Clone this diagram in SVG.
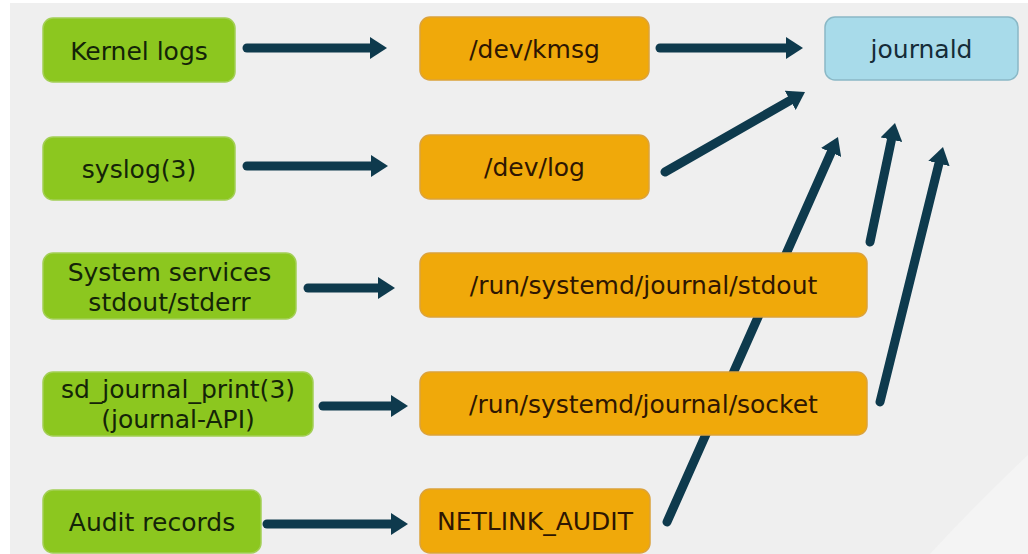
<svg xmlns="http://www.w3.org/2000/svg" width="1028" height="554" viewBox="0 0 1028 554">
<defs>
<marker id="ah" viewBox="0 0 17 22" markerWidth="17" markerHeight="22" refX="2" refY="11" orient="auto" markerUnits="userSpaceOnUse">
<path d="M0,0 L17,11 L0,22 z" fill="#0e3a4d"/>
</marker>
<style>
.c{stroke:#0e3a4d;stroke-width:9;fill:none;stroke-linecap:round;marker-end:url(#ah)}
.g{fill:#8cc71f;stroke:#a3cf55;stroke-width:1.5}
.o{fill:#f0a90a;stroke:#dca23a;stroke-width:1.5}
.b{fill:#a8dbea;stroke:#8ab8c6;stroke-width:1.5}
text{font-family:"DejaVu Sans",Verdana,sans-serif;font-size:25px;text-anchor:middle}
.tg{fill:#142408}
.to{fill:#2e1602}
.tb{fill:#152c38}
</style>
</defs>
<rect width="1028" height="554" fill="#ffffff"/>
<rect x="10" y="3" width="1018" height="551" fill="#efefef"/>
<path d="M1028,455 Q980,500 930,554 L1028,554 z" fill="#f4f4f4"/>
<g id="connectors">
<line class="c" x1="247" y1="48" x2="372" y2="48"/>
<line class="c" x1="247" y1="166" x2="373" y2="166"/>
<line class="c" x1="308" y1="288" x2="380" y2="288"/>
<line class="c" x1="323" y1="406" x2="393" y2="406"/>
<line class="c" x1="267" y1="524" x2="393" y2="524"/>
<line class="c" x1="660" y1="48" x2="788" y2="48"/>
<line class="c" x1="665" y1="172" x2="792" y2="99.4"/>
<line class="c" x1="667" y1="522" x2="831.9" y2="150.7"/>
<line class="c" x1="870" y1="242" x2="891.9" y2="137.7"/>
<line class="c" x1="880" y1="402" x2="939.4" y2="161.6"/>
</g>
<g id="kernel-logs"><rect class="g" x="43" y="18" width="192" height="64" rx="10"/><text class="tg" x="139" y="60">Kernel logs</text></g>
<g id="syslog"><rect class="g" x="43" y="137" width="192" height="63" rx="10"/><text class="tg" x="139" y="178">syslog(3)</text></g>
<g id="system-services"><rect class="g" x="43" y="253" width="253" height="66" rx="10"/><text class="tg" x="169.5" y="281">System services</text><text class="tg" x="169.5" y="311">stdout/stderr</text></g>
<g id="sd-journal-print"><rect class="g" x="43" y="372" width="270" height="64" rx="10"/><text class="tg" x="178" y="398">sd_journal_print(3)</text><text class="tg" x="178" y="428">(journal-API)</text></g>
<g id="audit-records"><rect class="g" x="43" y="490" width="218" height="63" rx="10"/><text class="tg" x="152" y="531">Audit records</text></g>
<g id="dev-kmsg"><rect class="o" x="420" y="17" width="229" height="63" rx="10"/><text class="to" x="534.5" y="58">/dev/kmsg</text></g>
<g id="dev-log"><rect class="o" x="420" y="135" width="229" height="64" rx="10"/><text class="to" x="534.5" y="176">/dev/log</text></g>
<g id="run-stdout"><rect class="o" x="420" y="253" width="447" height="64" rx="10"/><text class="to" x="643.5" y="294">/run/systemd/journal/stdout</text></g>
<g id="run-socket"><rect class="o" x="420" y="372" width="447" height="63" rx="10"/><text class="to" x="643.5" y="413">/run/systemd/journal/socket</text></g>
<g id="netlink-audit"><rect class="o" x="420" y="489" width="230" height="64" rx="10"/><text class="to" x="535" y="530">NETLINK_AUDIT</text></g>
<g id="journald"><rect class="b" x="825" y="17" width="193" height="63" rx="10"/><text class="tb" x="921.5" y="58">journald</text></g>
</svg>
